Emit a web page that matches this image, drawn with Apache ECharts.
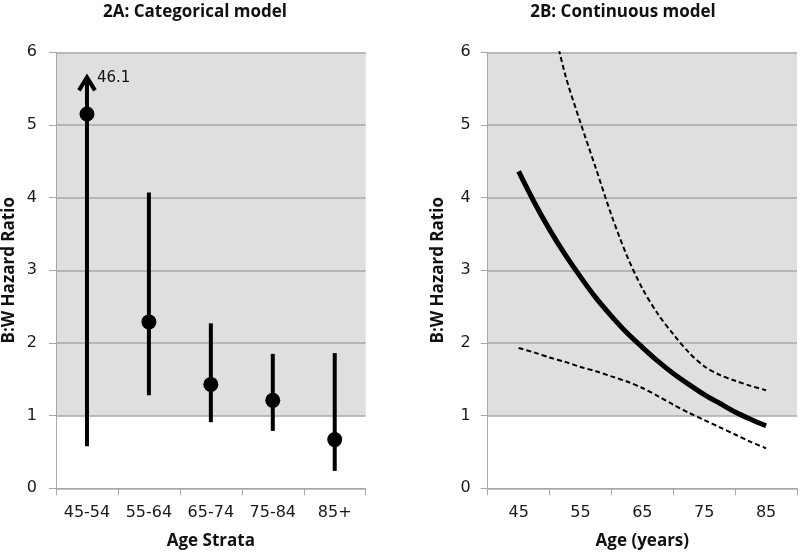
<!DOCTYPE html>
<html><head><meta charset="utf-8">
<script src="https://cdn.jsdelivr.net/npm/echarts@6/dist/echarts.min.js"></script>
<style>html,body{margin:0;padding:0;background:#fff}#c{width:800px;height:555px}</style>
</head><body><div id="c"></div>
<script>
// ---- Panel 2A: categorical model ----
const strata = ['45-54', '55-64', '65-74', '75-84', '85+'];
const hrStrata = [5.15, 2.29, 1.43, 1.21, 0.67];
const ciLowStrata = [0.58, 1.28, 0.91, 0.79, 0.24];
const ciHighStrata = [46.1, 4.07, 2.27, 1.85, 1.86];
const offScaleArrowTip = 5.71;

// ---- Panel 2B: continuous model ----
const ages = [45, 47.5, 50, 52.5, 55, 57.5, 60, 62.5, 65, 67.5, 70, 72.5, 75, 77.5, 80, 82.5, 85];
const hrFit = [4.36, 3.94, 3.56, 3.22, 2.91, 2.62, 2.37, 2.14, 1.94, 1.75, 1.58, 1.43, 1.29, 1.17, 1.05, 0.95, 0.86];
const hrLow = [1.93, 1.87, 1.80, 1.74, 1.67, 1.61, 1.54, 1.47, 1.38, 1.27, 1.15, 1.04, 0.94, 0.84, 0.74, 0.64, 0.55];
const hrHigh = [8.4, 7.5, 6.6, 5.7, 5.03, 4.4, 3.76, 3.2, 2.75, 2.4, 2.12, 1.87, 1.68, 1.56, 1.48, 1.41, 1.35];

const yTicks = [0, 1, 2, 3, 4, 5, 6];
const ageRange = [40, 90];
const ageTickLabels = [45, 55, 65, 75, 85];
const shadeRange = [1, 6];

const TICK_FONT = '"DejaVu Sans", sans-serif';
const NAME_FONT = '"Open Sans", sans-serif';
const GRID_GRAY = '#a8a8a8';
const yMax = yTicks[yTicks.length - 1];

function shadeItem(params, api) {
  const cs = params.coordSys;
  const yTop = api.coord([api.value(0), api.value(2)])[1];
  const yBot = api.coord([api.value(0), api.value(1)])[1];
  return { type: 'rect', shape: { x: cs.x, y: yTop, width: cs.width, height: yBot - yTop }, style: { fill: '#dfdfdf' } };
}

function errItem(params, api) {
  const i = api.value(0), lo = api.value(1), hi = api.value(2);
  const off = hi > yMax;
  const top = off ? offScaleArrowTip : hi;
  const p0 = api.coord([i, lo]);
  const p1 = api.coord([i, top]);
  const children = [{
    type: 'line',
    shape: { x1: p0[0], y1: p0[1], x2: p1[0], y2: off ? p1[1] + 4 : p1[1] },
    style: { stroke: '#000', lineWidth: 4 }
  }];
  if (off) {
    children.push({
      type: 'polyline',
      shape: { points: [[p1[0] - 8, p1[1] + 17], [p1[0], p1[1] + 4], [p1[0] + 8, p1[1] + 17]] },
      style: { stroke: '#000', lineWidth: 4, fill: null, lineJoin: 'miter' }
    });
    children.push({
      type: 'text', x: p1[0] + 10, y: p1[1] + 5,
      style: { text: String(hi), fill: '#111', font: '15px ' + TICK_FONT, verticalAlign: 'middle', align: 'left' }
    });
  }
  return { type: 'group', children };
}

const yAxisCommon = {
  type: 'value', min: yTicks[0], max: yMax, interval: 1,
  name: 'B:W Hazard Ratio', nameLocation: 'middle', nameRotate: 90,
  nameTextStyle: { fontFamily: NAME_FONT, fontWeight: 'bold', fontSize: 17, color: '#111' },
  axisLine: { show: true, lineStyle: { color: GRID_GRAY, width: 1 } },
  axisTick: { show: true, length: 7, lineStyle: { color: GRID_GRAY } },
  splitLine: { show: true, lineStyle: { color: GRID_GRAY, width: 1.5 } },
  axisLabel: { fontFamily: TICK_FONT, fontSize: 16, color: '#1a1a1a' }
};

const option = {
  animation: false,
  backgroundColor: '#fff',
  graphic: [
    { type: 'text', x: 195, y: 12, style: { text: '2A: Categorical model', font: 'bold 17px ' + NAME_FONT, fill: '#111', align: 'center', verticalAlign: 'middle' } },
    { type: 'text', x: 623, y: 12, style: { text: '2B: Continuous model', font: 'bold 17px ' + NAME_FONT, fill: '#111', align: 'center', verticalAlign: 'middle' } }
  ],
  grid: [
    { left: 53.3, right: 434.3, top: 52.3, bottom: 66.7 },
    { left: 487.7, right: 1, top: 52.3, bottom: 66.7 }
  ],
  xAxis: [
    {
      gridIndex: 0, type: 'category', data: strata, boundaryGap: true,
      name: 'Age Strata', nameLocation: 'middle', nameGap: 44,
      nameTextStyle: { fontFamily: NAME_FONT, fontWeight: 'bold', fontSize: 17, color: '#111' },
      axisLine: { lineStyle: { color: GRID_GRAY } },
      axisTick: { show: true, length: 7, lineStyle: { color: GRID_GRAY } },
      axisLabel: { fontFamily: TICK_FONT, fontSize: 16, color: '#1a1a1a', margin: 17 },
      splitLine: { show: false }
    },
    {
      gridIndex: 1, type: 'value', min: ageRange[0], max: ageRange[1], interval: 5, position: 'bottom',
      name: 'Age (years)', nameLocation: 'middle', nameGap: 44,
      nameTextStyle: { fontFamily: NAME_FONT, fontWeight: 'bold', fontSize: 17, color: '#111' },
      axisLine: { show: true, lineStyle: { color: GRID_GRAY } },
      axisTick: { show: false },
      axisLabel: {
        fontFamily: TICK_FONT, fontSize: 16, color: '#1a1a1a', margin: 17,
        formatter: v => ageTickLabels.includes(v) ? String(v) : ''
      },
      splitLine: { show: false }
    },
    {
      gridIndex: 1, type: 'value', min: ageRange[0], max: ageRange[1], interval: 10, position: 'bottom',
      axisLine: { show: false },
      axisTick: { show: true, length: 7, lineStyle: { color: GRID_GRAY } },
      axisLabel: { show: false },
      splitLine: { show: false }
    }
  ],
  yAxis: [
    Object.assign({}, yAxisCommon, { gridIndex: 0, nameGap: 38, axisLabel: Object.assign({}, yAxisCommon.axisLabel, { margin: 19 }) }),
    Object.assign({}, yAxisCommon, { gridIndex: 1, nameGap: 41, axisLabel: Object.assign({}, yAxisCommon.axisLabel, { margin: 17 }) })
  ],
  series: [
    { type: 'custom', xAxisIndex: 0, yAxisIndex: 0, z: -1, silent: true, renderItem: shadeItem, data: [[0, shadeRange[0], shadeRange[1]]] },
    { type: 'custom', xAxisIndex: 1, yAxisIndex: 1, z: -1, silent: true, renderItem: shadeItem, data: [[ages[0], shadeRange[0], shadeRange[1]]] },
    {
      type: 'custom', xAxisIndex: 0, yAxisIndex: 0, z: 3, renderItem: errItem,
      data: strata.map((c, i) => [i, ciLowStrata[i], ciHighStrata[i]])
    },
    {
      type: 'scatter', xAxisIndex: 0, yAxisIndex: 0, z: 4, symbol: 'circle', symbolSize: 15,
      itemStyle: { color: '#000', opacity: 1 }, data: hrStrata
    },
    {
      type: 'line', xAxisIndex: 1, yAxisIndex: 1, showSymbol: false, smooth: 0.3, z: 3,
      lineStyle: { color: '#000', width: 5 }, data: ages.map((a, i) => [a, hrFit[i]])
    },
    {
      type: 'line', xAxisIndex: 1, yAxisIndex: 1, showSymbol: false, smooth: 0.3, z: 3,
      lineStyle: { color: '#000', width: 2, type: [5, 3] }, data: ages.map((a, i) => [a, hrLow[i]])
    },
    {
      type: 'line', xAxisIndex: 1, yAxisIndex: 1, showSymbol: false, smooth: 0.3, z: 3, clip: true,
      lineStyle: { color: '#000', width: 2, type: [5, 3] }, data: ages.map((a, i) => [a, hrHigh[i]])
    }
  ]
};

const chart = echarts.init(document.getElementById('c'), null, { renderer: 'canvas' });
chart.setOption(option);
</script>
</body></html>
